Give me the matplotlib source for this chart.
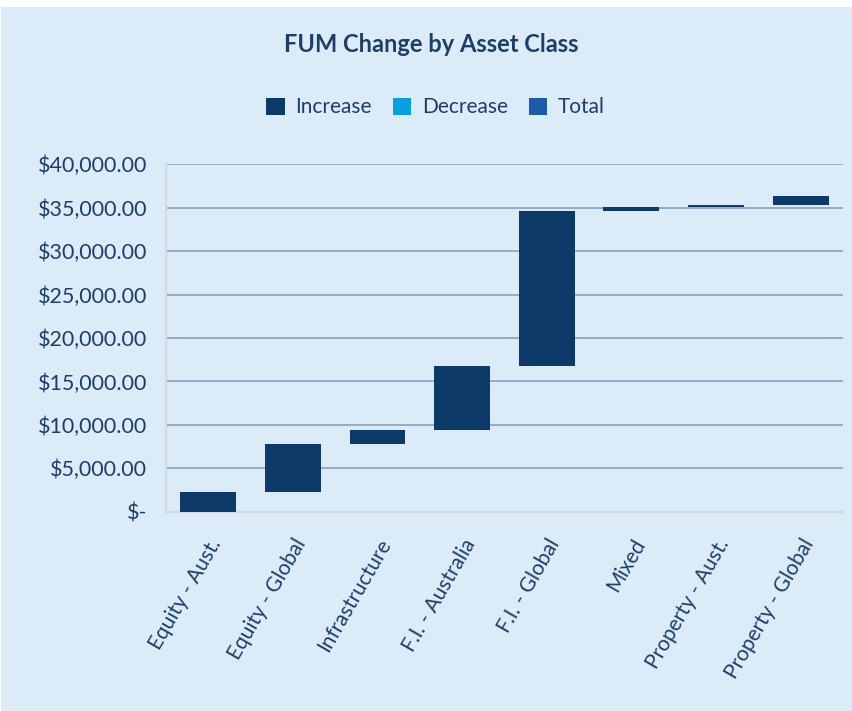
import numpy as np
import matplotlib.pyplot as plt
from matplotlib.patches import Rectangle
from matplotlib.ticker import FuncFormatter

plt.rcParams["font.family"] = ["Lato", "DejaVu Sans"]

# Data
categories = ["Equity - Aust.", "Equity - Global", "Infrastructure", "F.I. - Australia",
              "F.I. - Global", "Mixed", "Property - Aust.", "Property - Global"]
changes = [2300, 5550, 1600, 7300, 17850, 500, 200, 1100]
totals = [0, 0, 0, 0, 0, 0, 0, 0]

# Colours
bg = "#DBECF8"
text_col = "#1F3E66"
inc_col = "#0E3A6A"
dec_col = "#0A9FDF"
tot_col = "#1F5AA8"
grid_col = "#8DA8C4"

changes = np.array(changes, dtype=float)
cum = np.cumsum(changes)
start = cum - changes
increase = np.where(changes > 0, changes, 0)
decrease = np.where(changes < 0, -changes, 0)
inc_bottom = start
dec_bottom = cum

fig = plt.figure(figsize=(8.52, 7.11), dpi=100, facecolor="white")
fig.patches.append(Rectangle((1 / 852, 0), 1, 704 / 711, transform=fig.transFigure,
                             facecolor=bg, edgecolor="none", zorder=-10))

ax = fig.add_axes([0.1948, 0.2803, 0.7946, 0.4886])
ax.set_facecolor(bg)

x = np.arange(len(categories))
w = 0.66
ax.bar(x, increase, w, bottom=inc_bottom, color=inc_col, label="Increase", zorder=3, linewidth=0)
ax.bar(x, decrease, w, bottom=dec_bottom, color=dec_col, label="Decrease", zorder=3, linewidth=0)
ax.bar(x, totals, w, color=tot_col, label="Total", zorder=3, linewidth=0)

ax.set_xlim(-0.5, len(categories) - 0.5)
ax.set_ylim(0, 40000)
ax.set_yticks(np.arange(0, 40001, 5000))
ax.yaxis.set_major_formatter(FuncFormatter(lambda v, p: "$-" if v == 0 else f"${v:,.2f}"))
ax.grid(axis="y", color=grid_col, linewidth=1.3, zorder=0)
ax.tick_params(axis="y", length=0, pad=13.5, labelsize=15.5, labelcolor=text_col)
ax.tick_params(axis="x", length=0, pad=17, labelsize=15, labelcolor=text_col)
ax.set_xticks(x)
ax.set_xticklabels(categories, rotation=60, ha="right", rotation_mode="anchor")

for s in ["top", "right"]:
    ax.spines[s].set_visible(False)
for s in ["left", "bottom"]:
    ax.spines[s].set_color("#D3D8DC")
    ax.spines[s].set_linewidth(1.5)

fig.text(0.506, 0.937, "FUM Change by Asset Class", ha="center", va="center",
         fontsize=17, fontweight="bold", color=text_col)

leg = fig.legend(loc="center", bbox_to_anchor=(0.511, 0.849), ncol=3, frameon=False,
                 fontsize=15, handlelength=0.9, handleheight=0.9, handletextpad=0.5,
                 columnspacing=1.0, labelcolor=text_col)

fig.savefig("out.png", dpi=100, facecolor=fig.get_facecolor())
